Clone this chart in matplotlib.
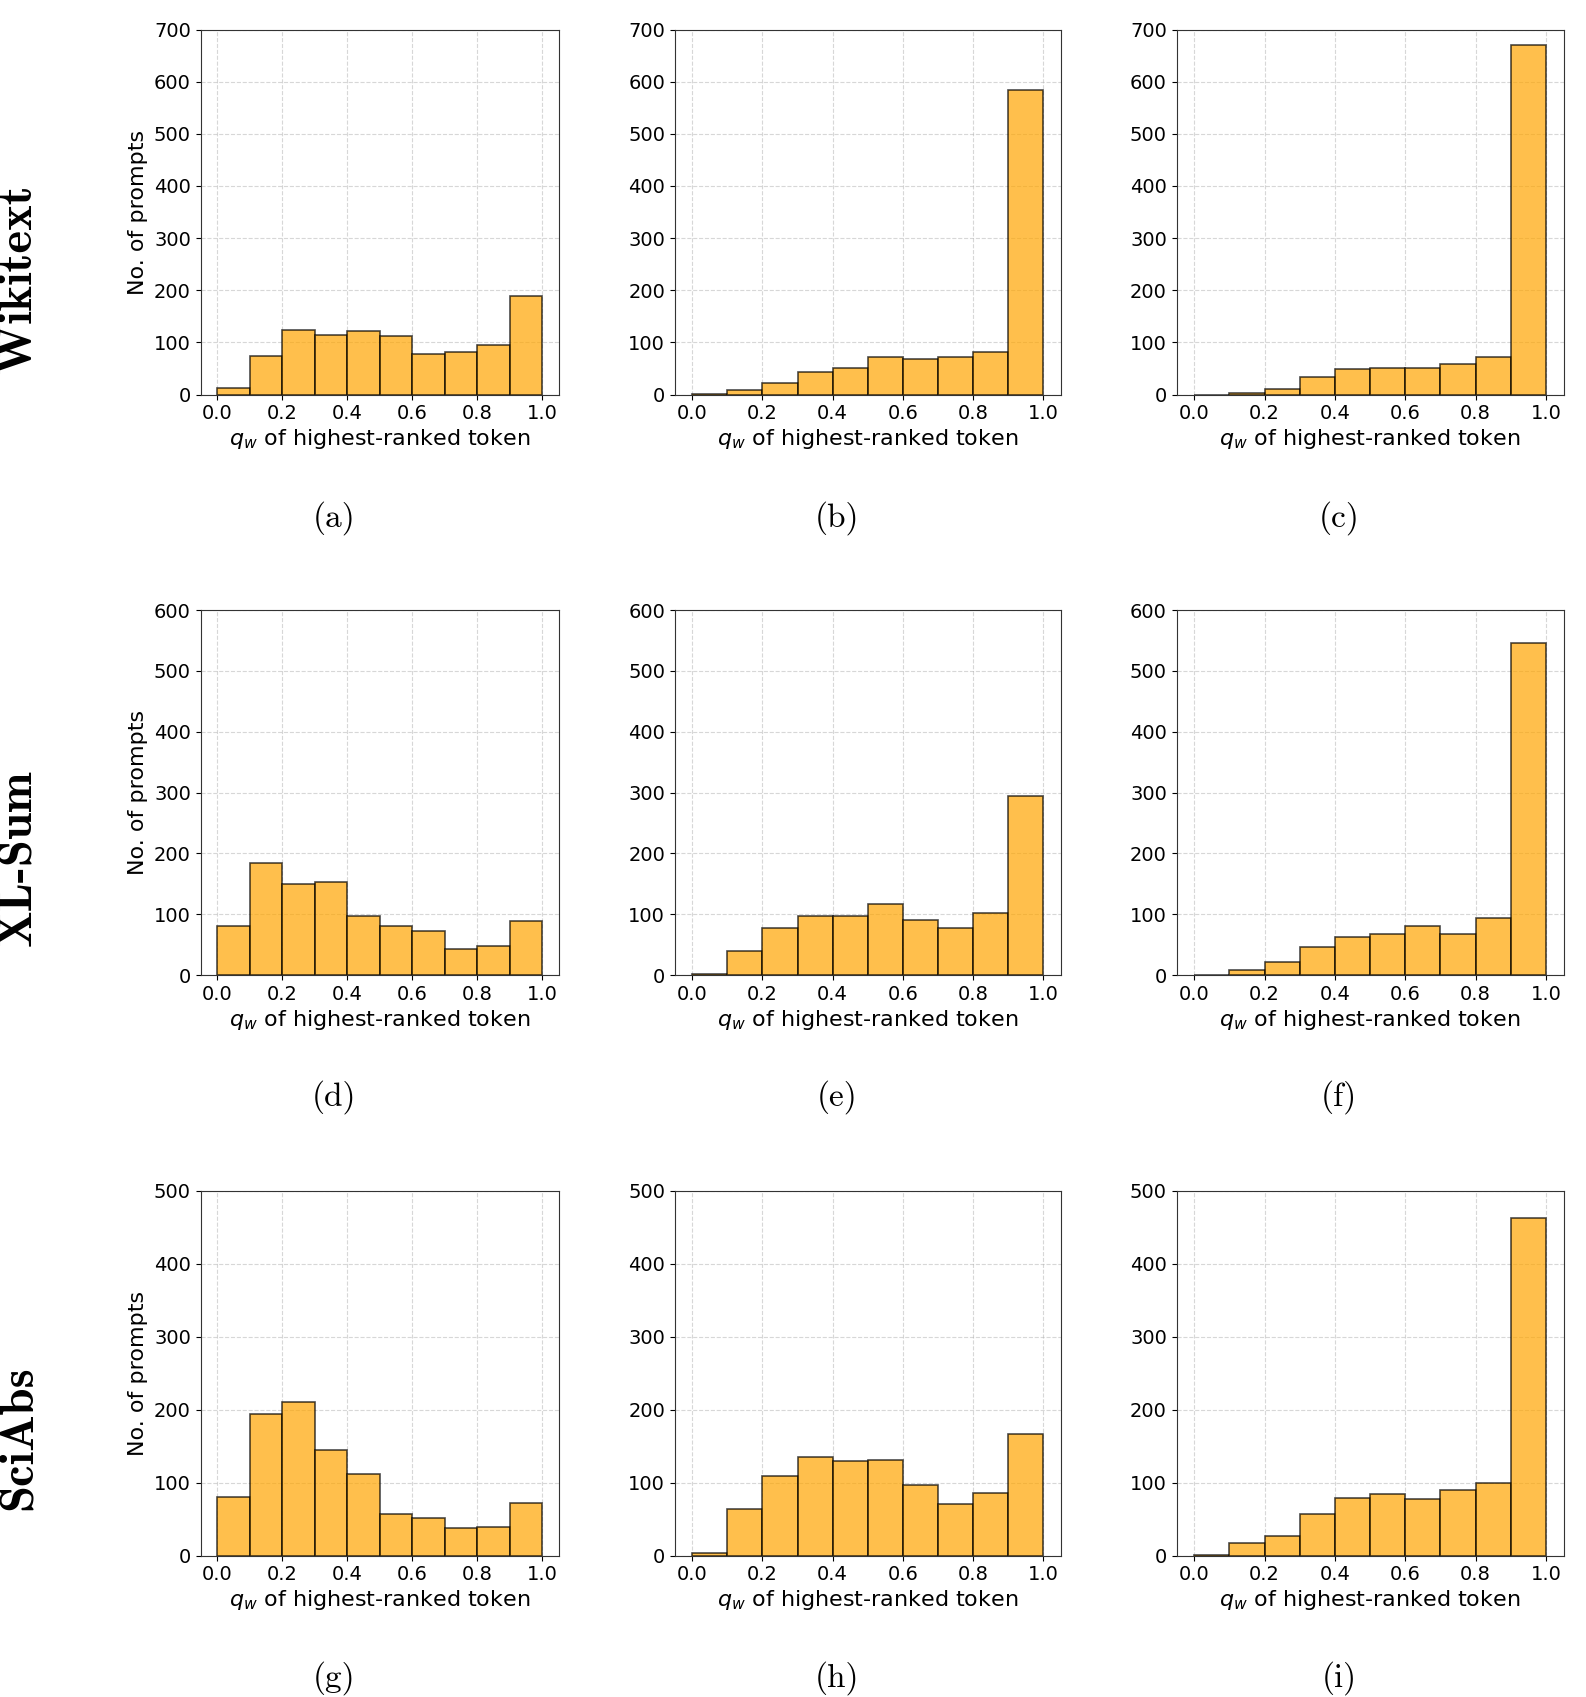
import numpy as np
import matplotlib
matplotlib.use('Agg')
import matplotlib.pyplot as plt

# bin edges of the histograms (10 bins over [0, 1])
bin_edges = np.linspace(0, 1, 11)

# counts per bin
wiki_a = [12, 73, 123, 115, 121, 113, 78, 81, 94, 189]
wiki_b = [1, 9, 22, 43, 51, 71, 68, 72, 81, 584]
wiki_c = [0, 3, 10, 34, 49, 51, 50, 58, 72, 670]

xlsum_d = [80, 184, 150, 153, 97, 80, 72, 43, 48, 88]
xlsum_e = [2, 40, 77, 97, 97, 116, 91, 77, 102, 295]
xlsum_f = [0, 9, 21, 46, 62, 68, 80, 67, 93, 546]

sciabs_g = [80, 194, 210, 144, 112, 57, 51, 37, 39, 72]
sciabs_h = [3, 64, 109, 135, 130, 131, 97, 71, 86, 166]
sciabs_i = [1, 17, 27, 57, 79, 84, 78, 90, 100, 462]

datasets = ['Wikitext', 'XL-Sum', 'SciAbs']
row_ymax = [700, 600, 500]
captions = ['(a)', '(b)', '(c)', '(d)', '(e)', '(f)', '(g)', '(h)', '(i)']
counts = [[wiki_a, wiki_b, wiki_c],
          [xlsum_d, xlsum_e, xlsum_f],
          [sciabs_g, sciabs_h, sciabs_i]]

W, H = 1586, 1697
fig = plt.figure(figsize=(W / 100, H / 100), dpi=100)

# axes boxes in pixels
col_left = [200.7, 674.8, 1176.7]
col_right = [558.6, 1060.6, 1563.6]
row_top = [29.5, 610.0, 1190.5]
row_bot = [394.5, 975.0, 1555.5]
cap_x = [334, 837, 1339]
cap_y = [518, 1097, 1678]
title_y = [279, 858, 1438]

centers = (bin_edges[:-1] + bin_edges[1:]) / 2

for r in range(3):
    for c in range(3):
        ax = fig.add_axes([col_left[c] / W, 1 - row_bot[r] / H,
                           (col_right[c] - col_left[c]) / W,
                           (row_bot[r] - row_top[r]) / H])
        ax.hist(centers, bins=bin_edges, weights=counts[r][c],
                color='orange', alpha=0.7, edgecolor='black', linewidth=1.2)
        ax.set_ylim(0, row_ymax[r])
        ax.set_yticks(np.arange(0, row_ymax[r] + 1, 100))
        ax.set_xticks(np.arange(0, 1.01, 0.2))
        ax.set_axisbelow(True)
        ax.grid(True, linestyle='--', alpha=0.5)
        ax.tick_params(labelsize=14)
        ax.set_xlabel(r'$q_w$ of highest-ranked token', fontsize=16, labelpad=3)
        if c == 0:
            ax.set_ylabel('No. of prompts', fontsize=16)
        for sp in ax.spines.values():
            sp.set_color('#333333')
        fig.text(cap_x[c] / W, 1 - cap_y[r] / H, captions[3 * r + c],
                 family='cmr10', fontsize=24, ha='center', va='center')
    fig.text(19 / W, 1 - title_y[r] / H, datasets[r], family='cmb10',
             fontsize=35, rotation=90, ha='center', va='center')

fig.savefig('out.png', dpi=100)
